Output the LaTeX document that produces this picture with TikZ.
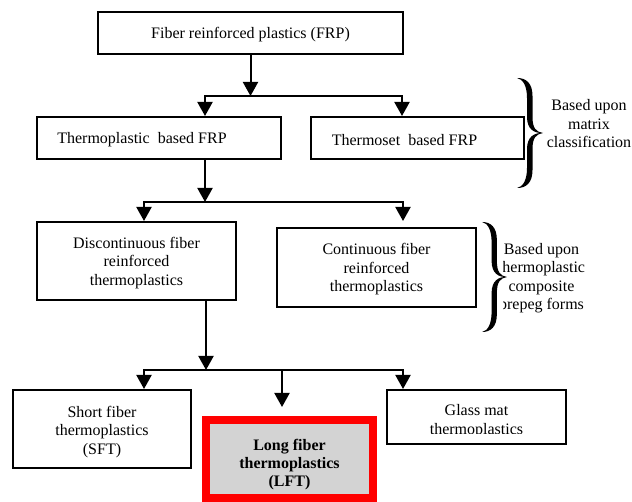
\documentclass[tikz,border=0pt]{standalone}
\usepackage{fontspec}
\setmainfont{Liberation Serif}
\usetikzlibrary{arrows.meta}
\definecolor{lftgray}{RGB}{211,211,211}
\newcommand{\mybrace}{%
  (0,0) .. controls (9,0) and (15.5,5) .. (15.5,18) -- (15.5,39)
        .. controls (15.5,50) and (19,54) .. (26,55)
        .. controls (17,55.5) and (10,51) .. (10,39) -- (10,20)
        .. controls (10,8) and (6,1) .. (0,0) -- cycle
  (0,110) .. controls (9,110) and (15.5,105) .. (15.5,92) -- (15.5,71)
        .. controls (15.5,60) and (19,56) .. (26,55)
        .. controls (17,54.5) and (10,59) .. (10,71) -- (10,90)
        .. controls (10,102) and (6,109) .. (0,110) -- cycle}
\begin{document}
\begin{tikzpicture}[x=1pt,y=-1pt,
  box/.style={draw,line width=2pt,inner sep=0pt},
  txt/.style={font=\fontsize{16}{18.5}\selectfont,align=center,inner sep=0pt,yshift=-2pt},
  ln/.style={line width=2pt},
  arr/.style={line width=2pt,line join=miter,-{Triangle[width=15pt,length=14pt]}},
]
\useasboundingbox (0,0) rectangle (632,502);

% boxes
\node[box,minimum width=305pt,minimum height=42pt] (frp) at (250.5,33) {};
\node[txt] (frpt) at (250.5,33) {Fiber reinforced plastics (FRP)};
\node[box,minimum width=244pt,minimum height=42pt] (tp) at (159,138) {};
\node[txt] (tpt) at (142,138) {Thermoplastic\ \ based FRP};
\node[box,minimum width=213pt,minimum height=42pt] (ts) at (417.5,138) {};
\node[txt] (tst) at (404.5,138) {Thermoset\ \ based FRP};
\node[box,minimum width=199pt,minimum height=78pt] (dc) at (136.5,261) {};
\node[txt] (dct) at (136.5,261) {Discontinuous fiber\\reinforced\\thermoplastics};
\node[box,minimum width=199pt,minimum height=79pt] (ct) at (376.5,267.5) {};
\node[txt] (ctt) at (376.5,267.5) {Continuous fiber\\reinforced\\thermoplastics};
\node[box,minimum width=178pt,minimum height=78pt] (sft) at (102,429) {};
\node[txt] (sftt) at (102,430) {Short fiber\\thermoplastics\\(SFT)};
\node[draw=red,fill=lftgray,line width=8pt,inner sep=0pt,minimum width=167pt,minimum height=78pt] (lft) at (289.5,459) {};
\node[txt,font=\fontsize{16}{18}\selectfont\bfseries] (lftt) at (289.5,463) {Long fiber\\thermoplastics\\(LFT)};
\node[box,minimum width=179pt,minimum height=54pt] (gm) at (476.5,417) {};
\begin{scope}
\clip (387,392) rectangle (566,434);
\node[txt] (gmt) at (476.5,419) {Glass mat\\thermoplastics};
\end{scope}

% braces and their notes
\fill[shift={(517,78)}] \mybrace;
\node[txt] (c1) at (589,122) {Based upon\\matrix\\classification};
\fill[shift={(482,222)},xscale=0.96] \mybrace;
\begin{scope}
\clip (503,230) rectangle (632,320);
\node[txt] (c2) at (541.5,276) {Based upon\\thermoplastic\\composite\\prepeg forms};
\end{scope}

% connectors
\coordinate (f1) at (250.5,96);
\coordinate (f1l) at (205,96);
\coordinate (f1r) at (402,96);
\draw[arr] (frp.south) -- (f1);
\draw[arr] (f1r) -- (f1l) -- (f1l |- tp.north);
\draw[arr] (f1l) -- (f1r) -- (f1r |- ts.north);

\coordinate (f2) at (205,202);
\coordinate (f2l) at (144,202);
\coordinate (f2r) at (403,202);
\draw[arr] (f1l |- tp.south) -- (f2);
\draw[arr] (f2r) -- (f2l) -- (f2l |- dc.north);
\draw[arr,shorten >=6pt] (f2l) -- (f2r) -- (f2r |- ct.north);

\coordinate (f3) at (206,370);
\coordinate (f3l) at (144,370);
\coordinate (f3m) at (282,370);
\coordinate (f3r) at (403,370);
\draw[arr] (f3 |- dc.south) -- (f3);
\draw[arr] (f3r) -- (f3l) -- (f3l |- sft.north);
\draw[arr,shorten >=9pt] (f3m) -- (f3m |- lft.north);
\draw[arr] (f3l) -- (f3r) -- (f3r |- gm.north);
\end{tikzpicture}
\end{document}
